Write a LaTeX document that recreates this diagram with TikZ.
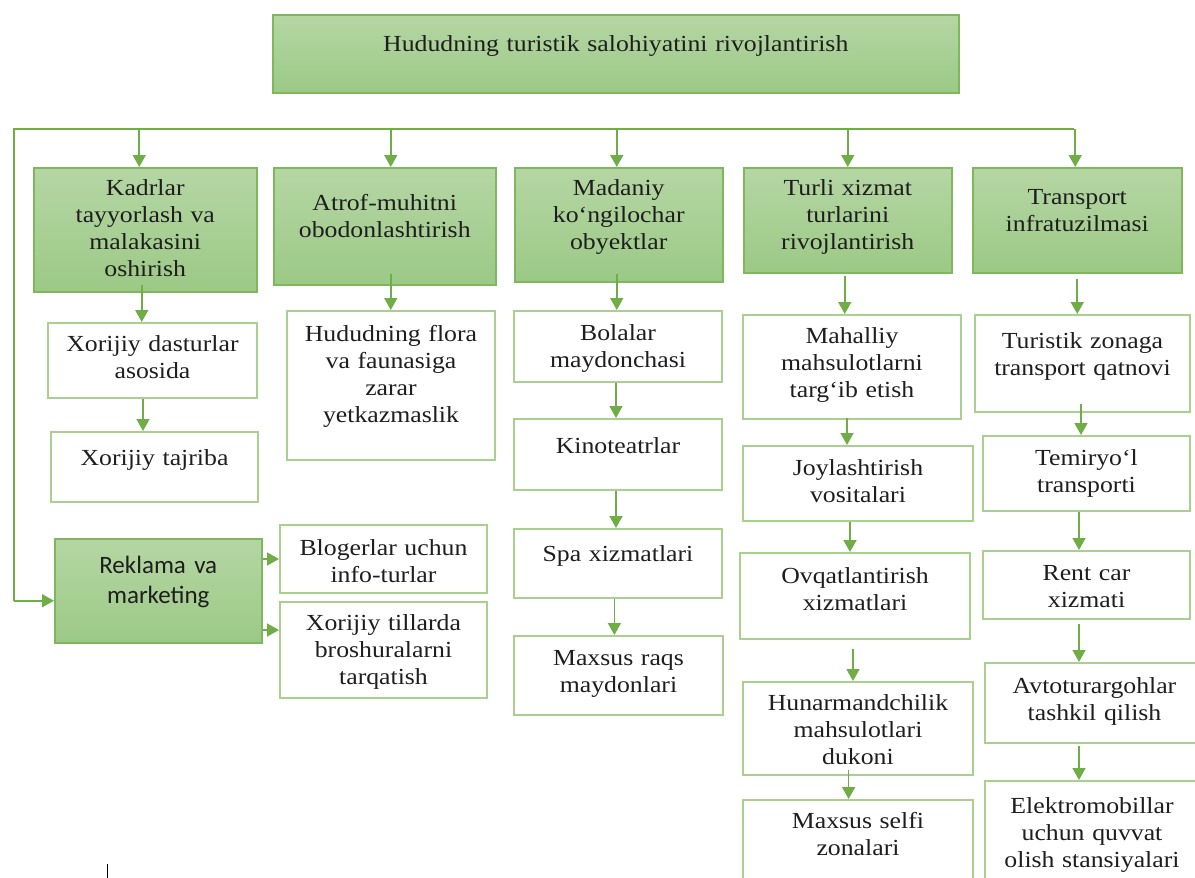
\documentclass[tikz,border=0pt]{standalone}
\usepackage{fontspec}
\setmainfont{Liberation Serif}[FakeStretch=1.12]
\newfontfamily\calib{Carlito}
\usetikzlibrary{arrows.meta}
\definecolor{gline}{RGB}{112,173,71}
\definecolor{gedge}{RGB}{126,183,92}
\definecolor{wedge}{RGB}{169,208,142}
\definecolor{gtop}{RGB}{181,214,164}
\definecolor{gbot}{RGB}{156,201,134}
\definecolor{txt}{RGB}{30,30,30}
\tikzset{
  every node/.style={font=\fontsize{23}{27}\selectfont, text=txt, align=center, anchor=north west, inner xsep=4pt, inner ysep=0pt},
  gbox/.style={draw=gedge, line width=1.5pt, top color=gtop, bottom color=gbot},
  wbox/.style={draw=wedge, line width=2pt, fill=white},
  arr/.style={draw=gline, line width=1.7pt, -{Triangle[width=13pt,length=12pt]}},
  busline/.style={draw=gline, line width=2.6pt}
}
\begin{document}
\begin{tikzpicture}[x=1pt,y=-1pt]
\useasboundingbox (0,0) rectangle (1195,878);
\clip (0,0) rectangle (1195,878);

% top
\node[gbox, text width=678pt, text height=37pt, text depth=41pt] (top) at (272,14) {Hududning turistik salohiyatini rivojlantirish};

% first level
\node[gbox, text width=215pt, text height=28pt, text depth=96pt] (kadr) at (33,167) {Kadrlar\\tayyorlash va\\malakasini\\oshirish};
\node[gbox, text width=214pt, text height=43pt, text depth=74pt] (atrof) at (273,167) {Atrof-muhitni\\obodonlashtirish};
\node[gbox, text width=200pt, text height=28pt, text depth=86pt] (madan) at (514,167) {Madaniy\\ko‘ngilochar\\obyektlar};
\node[gbox, text width=200pt, text height=28pt, text depth=77pt] (turli) at (743,167) {Turli xizmat\\turlarini\\rivojlantirish};
\node[gbox, text width=201pt, text height=37pt, text depth=68pt] (trans) at (972,167) {Transport\\infratuzilmasi};
\node[gbox, text width=199pt, text height=35pt, text depth=69pt, font=\calib\fontsize{25}{30}\selectfont] (rekl) at (54,538) {Reklama va\\marketing};

% kadrlar
\node[wbox, text width=201pt, text height=28pt, text depth=47pt] (xdast) at (47,322) {Xorijiy dasturlar\\asosida};
\node[wbox, text width=199pt, text height=33pt, text depth=37pt] (xtajr) at (50,431) {Xorijiy tajriba};

% atrof-muhit
\node[wbox, text width=200pt, text height=30pt, text depth=119pt] (flora) at (286,310) {Hududning flora\\va faunasiga\\zarar\\yetkazmaslik};

% reklama
\node[wbox, text width=199pt, text height=30pt, text depth=38pt] (blog) at (279,524) {Blogerlar uchun\\info-turlar};
\node[wbox, text width=199pt, text height=28pt, text depth=68pt] (xtil) at (279,601) {Xorijiy tillarda\\broshuralarni\\tarqatish};

% madaniy
\node[wbox, text width=200pt, text height=29pt, text depth=42pt] (bolal) at (513,310) {Bolalar\\maydonchasi};
\node[wbox, text width=200pt, text height=34pt, text depth=37pt] (kino) at (513,418) {Kinoteatrlar};
\node[wbox, text width=200pt, text height=32pt, text depth=37pt] (spa) at (513,528) {Spa xizmatlari};
\node[wbox, text width=201pt, text height=29pt, text depth=50pt] (raqs) at (513,635) {Maxsus raqs\\maydonlari};

% xizmatlar
\node[wbox, text width=210pt, text height=28pt, text depth=76pt] (mahal) at (742,314) {Mahalliy\\mahsulotlarni\\targ‘ib etish};
\node[wbox, text width=222pt, text height=29pt, text depth=46pt] (joyl) at (742,445) {Joylashtirish\\vositalari};
\node[wbox, text width=222pt, text height=30pt, text depth=56pt] (ovqat) at (739,552) {Ovqatlantirish\\xizmatlari};
\node[wbox, text width=222pt, text height=28pt, text depth=65pt] (hunar) at (742,681) {Hunarmandchilik\\mahsulotlari\\dukoni};
\node[wbox, text width=222pt, text height=28pt, text depth=73pt] (selfi) at (742,799) {Maxsus selfi\\zonalari};

% transport
\node[wbox, text width=207pt, text height=33pt, text depth=64pt] (turis) at (974,314) {Turistik zonaga\\transport qatnovi};
\node[wbox, text width=199pt, text height=29pt, text depth=46pt] (temir) at (982,435) {Temiryo‘l\\transporti};
\node[wbox, text width=199pt, text height=29pt, text depth=39pt] (rent) at (982,550) {Rent car\\xizmati};
\node[wbox, text width=211pt, text height=30pt, text depth=50pt] (avto) at (984,662) {Avtoturargohlar\\tashkil qilish};
\node[wbox, text width=206pt, text height=32pt, text depth=88pt] (elek) at (984,780) {Elektromobillar\\uchun quvvat\\olish stansiyalari};

% bus
\coordinate (busl) at (14,129);
\coordinate (busr) at (1074,129);
\coordinate (rekin) at ([yshift=-10pt]rekl.west);
\draw[busline] (busr) -- (busl) -- (busl |- rekin);
\draw[arr] (busl |- rekin) -- (rekin);
\foreach \n/\s in {kadr/-6,atrof/6,madan/-2,turli/0,trans/-2}{
  \coordinate (\n-in) at ([xshift=\s pt]\n.north);
  \draw[arr] (\n-in |- busl) -- (\n-in);
}

% down the columns
\foreach \a/\b/\s/\t in {kadr/xdast/-3.5/8, xdast/xtajr/-9.5/0, atrof/flora/6/12,
  madan/bolal/-2/9, bolal/kino/-2/0, kino/spa/-2/0, spa/raqs/-3.6/0,
  turli/mahal/-3/-2, mahal/joyl/-5/2, joyl/ovqat/-8/0, ovqat/hunar/-2/-9, hunar/selfi/-9.4/6,
  trans/turis/0/-5, turis/temir/-1.5/9, temir/rent/-7.5/0, rent/avto/-7.5/-4, avto/elek/-15.5/-2}{
  \coordinate (\a-out) at ([xshift=\s pt,yshift=\t pt]\a.south);
  \draw[arr] (\a-out) -- (\a-out |- \b.north);
}

% reklama
\draw[arr] (rekl.east |- blog.west) -- (blog.west);
\coordinate (xtilin) at ([yshift=20pt]xtil.west);
\draw[arr] (rekl.east |- xtilin) -- (xtilin);

\draw[line width=1pt] (107,864) -- (107,878);
\end{tikzpicture}
\end{document}
